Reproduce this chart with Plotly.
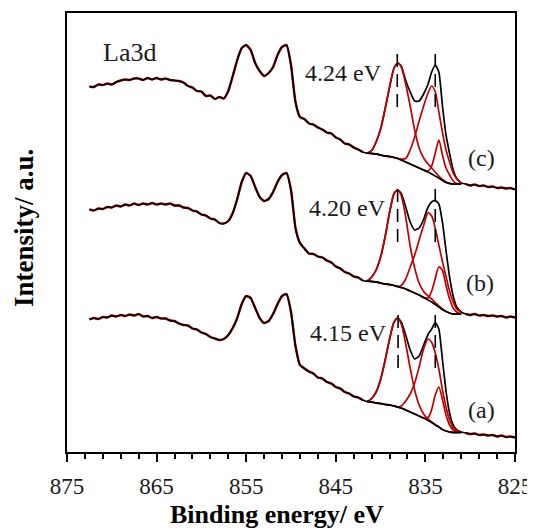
import plotly.graph_objects as go

# ---------------- data (binding energy in eV, intensity in a.u.) ----------------
survey_energy = [872.5, 872.0, 871.5, 871.0, 870.5, 870.0, 869.5, 869.0, 868.5, 868.0,
                 867.5, 867.0, 866.5, 866.0, 865.5, 865.0, 864.5, 864.0, 863.5, 863.0,
                 862.5, 862.0, 861.5, 861.0, 860.5, 860.0, 859.5, 859.0, 858.5, 858.0,
                 857.5, 857.0, 856.5, 856.0, 855.5, 855.0, 854.5, 854.0, 853.5, 853.0,
                 852.5, 852.0, 851.5, 851.0, 850.5, 850.0, 849.5, 849.0, 848.5, 848.0,
                 847.5, 847.0, 846.5, 846.0, 845.5, 845.0, 844.5, 844.0, 843.5, 843.0,
                 842.5, 842.0]
fit_energy = [841.5, 841.0, 840.5, 840.0, 839.5, 839.0, 838.5, 838.1, 837.7, 837.2,
              836.7, 836.2, 835.7, 835.2, 834.7, 834.3, 833.9, 833.5, 833.1, 832.7,
              832.3, 831.9, 831.5, 831.0]
tail_energy = [830.5, 830.0, 829.5, 829.0, 828.5, 828.0, 827.5, 827.0, 826.5, 826.0, 825.5, 825.0]

# (c) top spectrum
survey_c = [365.5, 365, 367.5, 367, 368.5, 367.5, 370, 371.5, 372.5, 372,
            373.5, 373.5, 372, 374, 372.5, 374, 372.5, 373.5, 372, 371.5,
            371, 369.5, 366, 364.5, 361, 360.5, 356, 356.5, 353, 355,
            353.5, 361, 376, 392, 404, 407, 402, 389, 381, 376,
            379, 385, 397, 405, 407, 387, 350, 335, 333, 328.5,
            327.5, 324.5, 322.5, 319.5, 318.5, 314.5, 312.5, 308.5, 307.5, 304.5,
            302.5, 300]
envelope_c = [299, 301.5, 310, 323, 343, 365, 384, 389, 386, 371.5, 360, 351, 351, 358, 368, 380,
              387, 380, 346.5, 317, 298.5, 282, 273.5, 269]
background_c = [299, 298.5, 298, 297, 296, 295.5, 294.5, 293.5, 292, 290, 288, 286, 284, 282, 280,
                278, 276, 274, 271.5, 269.5, 268.5, 268, 268, 268]
peak1_c = [299, 301.5, 310, 323, 343, 365, 384, 389, 385, 368, 346, 322, 304, 294, 288, 284, 280,
           276, 272.5, 270, 268.5, 268, 268, 268]
peak2_c = [299, 298.5, 298, 297, 296, 295.5, 294.5, 293.5, 293, 293.5, 302, 315, 331, 346, 359, 366,
           360, 340, 320, 302, 290, 279, 273, 269]
peak3_c = [299, 298.5, 298, 297, 296, 295.5, 294.5, 293.5, 292, 290, 288, 286, 284, 282, 281, 286,
           299, 312, 297, 284, 277, 271, 268.5, 268]
tail_c = [268, 266.5, 267.5, 266, 266.5, 265, 265.5, 264, 264.5, 263.5, 264, 262.5]

# (b) middle spectrum
survey_b = [242.5, 241.5, 243.5, 243, 245, 244.5, 246.5, 245.5, 247.5, 246.5,
            248.5, 247, 248.5, 247.5, 249, 247.5, 248.5, 247.5, 248.5, 246.5,
            246.5, 244.5, 244, 241.5, 240.5, 237.5, 236.5, 233.5, 232.5, 229,
            228.5, 231, 239, 253, 270, 279, 276, 265, 255, 251,
            253, 260, 270, 277, 279, 262, 224, 209, 203.5, 198.5,
            198, 195.5, 194.5, 191.5, 189.5, 185.5, 183.5, 180, 178.5, 175.5,
            174.5, 171.5]
envelope_b = [171, 175, 182, 195, 215, 239.5, 258.5, 262, 258.5, 245, 230, 222, 224, 232.5, 245, 250,
              251.5, 248, 230, 201.5, 175, 156, 145, 140]
background_b = [171, 170.5, 170, 169, 168, 167.5, 166.5, 165.5, 164.5, 163, 161, 159, 157, 154.5, 152,
                150, 147.5, 145, 142.5, 140.5, 139, 138, 138, 138]
peak1_b = [171, 175, 182, 195, 215, 239.5, 258.5, 262, 256.5, 235, 206, 184, 169, 160.5, 156, 153,
           149.5, 146, 143, 140.5, 139, 138, 138, 138]
peak2_b = [171, 170.5, 170, 169, 168, 167.5, 166.5, 165.5, 166.5, 173, 185, 197, 212, 226.5, 239, 236,
           223.5, 207, 190.5, 175.5, 161, 150, 143, 140]
peak3_b = [171, 170.5, 170, 169, 168, 167.5, 166.5, 165.5, 164.5, 163, 161, 159, 157, 154.5, 154, 161,
           173.5, 185, 181.5, 166.5, 153, 144, 140, 138]
tail_b = [138, 137, 138, 136.5, 137, 136, 136.5, 135.5, 136, 134.5, 135.5, 134.5]

# (a) bottom spectrum
survey_a = [132.5, 134, 133, 135, 134.5, 136.5, 135.5, 137, 136, 137.5,
            136.5, 138, 135.5, 136, 134, 135, 133.5, 133.5, 131.5, 131,
            128.5, 127, 126.5, 123.5, 122.5, 119.5, 118, 115, 113.5, 112,
            113, 117, 124, 134, 148, 156, 154, 144, 134, 129,
            131, 138, 148, 156, 158, 140, 106, 87, 83.5, 80.5,
            78.5, 74.5, 73.5, 70, 68.5, 65, 63.5, 60, 58.5, 55.5,
            54.5, 52]
envelope_a = [50.5, 53.5, 60, 72.5, 91.5, 113, 130, 134, 130, 117, 102, 93, 96, 107, 117.5, 123,
              129.5, 123, 92.5, 61, 39, 27, 22, 20]
background_a = [50.5, 50, 49, 48.5, 47.5, 47, 46, 45, 44, 42, 40, 38, 36, 34, 31.5, 29.5, 27, 25,
                22.5, 21, 20, 19.5, 19.5, 19.5]
peak1_a = [50.5, 53.5, 60, 72.5, 91.5, 113, 130, 134, 128, 108, 84, 62, 47, 38, 33, 30, 27.5, 25,
           22.5, 21, 20, 19.5, 19.5, 19.5]
peak2_a = [50.5, 50, 49, 48.5, 47.5, 47, 46, 45, 46, 51, 58, 69, 85, 103, 113, 109.5, 99, 83, 62.5,
           45, 32, 24.5, 21.5, 20]
peak3_a = [50.5, 50, 49, 48.5, 47.5, 47, 46, 45, 44, 42, 40, 38, 36, 34, 34.5, 42.5, 57, 65, 52.5,
           37, 27, 22, 20, 19.5]
tail_a = [19, 18, 18.5, 17, 17.5, 16.5, 17, 15.5, 16.5, 15, 15.5, 14.5]

# peak-position markers (eV) and their vertical span (a.u.)
marker_energy_c = [838.14, 833.90]
marker_energy_b = [838.10, 833.90]
marker_energy_a = [838.05, 833.90]
marker_span_c = [345, 405]
marker_span_b = [210, 269]
marker_span_a = [84, 144]

splitting_labels = ["4.24 eV", "4.20 eV", "4.15 eV"]
sample_labels = ["(c)", "(b)", "(a)"]
x_ticks = [875, 865, 855, 845, 835, 825]

# ---------------- figure ----------------
RED = "#c00000"
BLACK = "#000000"
FONT = "Liberation Serif"

fig = go.Figure()

spectra = [
    (survey_c, envelope_c, tail_c, background_c, [peak1_c, peak2_c, peak3_c], marker_energy_c, marker_span_c),
    (survey_b, envelope_b, tail_b, background_b, [peak1_b, peak2_b, peak3_b], marker_energy_b, marker_span_b),
    (survey_a, envelope_a, tail_a, background_a, [peak1_a, peak2_a, peak3_a], marker_energy_a, marker_span_a),
]

all_energy = survey_energy + fit_energy + tail_energy
for survey, env, tail, bg, peaks, m_e, m_span in spectra:
    under_y = survey + [None] * len(fit_energy) + tail
    fig.add_trace(go.Scatter(x=all_energy, y=under_y, mode="lines",
                             line=dict(color=RED, width=2.4, shape="spline", smoothing=0.5),
                             connectgaps=False, hoverinfo="skip"))
    fig.add_trace(go.Scatter(x=all_energy, y=survey + env + tail, mode="lines",
                             line=dict(color=BLACK, width=1.7, shape="spline", smoothing=0.5),
                             hoverinfo="skip"))
    for pk in peaks:
        fig.add_trace(go.Scatter(x=fit_energy, y=pk, mode="lines",
                                 line=dict(color=RED, width=1.7, shape="spline", smoothing=0.8),
                                 hoverinfo="skip"))
    fig.add_trace(go.Scatter(x=fit_energy, y=bg, mode="lines",
                             line=dict(color=BLACK, width=1.8, shape="spline", smoothing=0.8),
                             hoverinfo="skip"))
    for e in m_e:
        fig.add_trace(go.Scatter(x=[e, e], y=m_span, mode="lines",
                                 line=dict(color=BLACK, width=1.6, dash="13px,7px"),
                                 hoverinfo="skip"))

# The page body has an 8px default margin, so the figure is offset by 8px.
OFF = 8
PAGE_W, PAGE_H = 535, 530
# plot area in page pixels
L, R, T, B = 67, 515, 13, 452
FIG_W, FIG_H = PAGE_W - OFF, PAGE_H - OFF


def px_x(x):
    return (x - L) / (R - L)


def px_y(y):
    return (B - y) / (B - T)


annotations = []
annotations.append(dict(text="La3d", x=px_x(129), y=px_y(52), xref="paper", yref="paper",
                        xanchor="center", yanchor="middle", showarrow=False,
                        font=dict(family=FONT, size=26, color="#1a1a1a")))
for lbl, xl, yc in zip(splitting_labels, [303, 307, 308], [73, 208, 333]):
    annotations.append(dict(text=lbl, x=px_x(xl), y=px_y(yc), xref="paper", yref="paper",
                            xanchor="left", yanchor="middle", showarrow=False,
                            font=dict(family=FONT, size=24, color="#1a1a1a")))
for lbl, xc, yc in zip(sample_labels, [481, 480, 481], [158, 283, 410]):
    annotations.append(dict(text=lbl, x=px_x(xc), y=px_y(yc), xref="paper", yref="paper",
                            xanchor="center", yanchor="middle", showarrow=False,
                            font=dict(family=FONT, size=24, color="#1a1a1a")))
annotations.append(dict(text="<b>Binding energy/ eV</b>", x=px_x(277), y=px_y(514),
                        xref="paper", yref="paper", xanchor="center", yanchor="middle",
                        showarrow=False, font=dict(family=FONT, size=26, color="#000")))
annotations.append(dict(text="<b>Intensity/ a.u.</b>", x=px_x(24), y=px_y(228),
                        xref="paper", yref="paper", xanchor="center", yanchor="middle",
                        textangle=-90, showarrow=False,
                        font=dict(family=FONT, size=27, color="#000")))

fig.update_layout(
    width=FIG_W, height=FIG_H,
    margin=dict(l=L - OFF, r=FIG_W - (R - OFF), t=T - OFF, b=FIG_H - (B - OFF), pad=0,
                autoexpand=False),
    paper_bgcolor="white", plot_bgcolor="white",
    showlegend=False,
    annotations=annotations,
    font=dict(family=FONT, color="#1a1a1a"),
)
fig.update_xaxes(range=[875, 825], tickmode="array", tickvals=x_ticks,
                 ticktext=[str(t) for t in x_ticks],
                 ticks="outside", ticklen=8, tickwidth=2, tickcolor=BLACK,
                 minor=dict(tickmode="linear", tick0=825, dtick=2, ticks="outside",
                            ticklen=5, tickwidth=2, tickcolor=BLACK),
                 showline=True, linewidth=2, linecolor=BLACK, mirror=True,
                 showgrid=False, zeroline=False, ticklabelstandoff=4,
                 tickfont=dict(family=FONT, size=23, color="#1a1a1a"))
fig.update_yaxes(range=[0, 439], showticklabels=False, ticks="",
                 showline=True, linewidth=2, linecolor=BLACK, mirror=True,
                 showgrid=False, zeroline=False)

fig.write_html("out.html")
